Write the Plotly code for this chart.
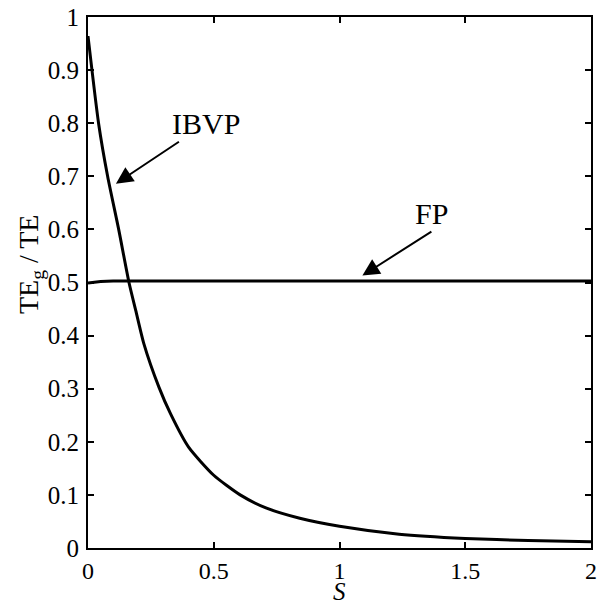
import plotly.graph_objects as go

# IBVP curve
s_ibvp = [0, 0.042, 0.078, 0.122, 0.163, 0.19, 0.222, 0.282, 0.328, 0.40,
          0.50, 0.605, 0.71, 0.842, 1.0, 1.237, 1.5, 1.75, 2.0]
te_ibvp = [0.964, 0.80, 0.70, 0.60, 0.50, 0.447, 0.385, 0.303, 0.253, 0.19,
           0.137, 0.10, 0.075, 0.056, 0.041, 0.026, 0.018, 0.014, 0.012]

# FP curve
s_fp = [0, 0.05, 0.1, 0.5, 1.0, 1.5, 2.0]
te_fp = [0.499, 0.502, 0.503, 0.503, 0.503, 0.503, 0.503]

x_ticks = [0, 0.5, 1, 1.5, 2]
y_ticks = [0, 0.1, 0.2, 0.3, 0.4, 0.5, 0.6, 0.7, 0.8, 0.9, 1]

font_family = "Liberation Serif"
tick_size = 25
label_size = 30

fig = go.Figure()
fig.add_trace(go.Scatter(x=s_ibvp, y=te_ibvp, mode="lines",
                         line=dict(color="black", width=3, shape="spline", smoothing=0.6),
                         showlegend=False))
fig.add_trace(go.Scatter(x=s_fp, y=te_fp, mode="lines",
                         line=dict(color="black", width=3), showlegend=False))

axis_common = dict(showline=True, linecolor="black", linewidth=2, mirror="ticks",
                   ticks="inside", ticklen=6, tickwidth=1.5, tickcolor="black",
                   showgrid=False, zeroline=False, automargin=False)

fig.update_xaxes(range=[0, 2], tickvals=x_ticks,
                 tickfont=dict(family=font_family, size=24, color="black"), **axis_common)
fig.update_yaxes(range=[0, 1], tickvals=y_ticks, ticklabelstandoff=2,
                 tickfont=dict(family=font_family, size=tick_size, color="black"), **axis_common)

# axis titles
fig.add_annotation(x=0.5, y=-0.081, xref="paper", yref="paper", text="<i>S</i>",
                   showarrow=False, yanchor="middle",
                   font=dict(family=font_family, size=25, color="black"))
fig.add_annotation(x=-0.113, y=0.535, xref="paper", yref="paper", text="TE<sub>g</sub> / TE",
                   showarrow=False, textangle=-90, xanchor="center", yanchor="middle",
                   font=dict(family=font_family, size=28, color="black"))

arrow_style = dict(showarrow=True, arrowhead=2, arrowsize=1.7, arrowwidth=2,
                   arrowcolor="black", font=dict(family=font_family, size=label_size, color="black"))

# IBVP: label centred on the arrow line
fig.add_annotation(x=0.111, y=0.686, ax=90, ay=-60, text="IBVP", **arrow_style)
# FP: label sits just above the arrow tail
fig.add_annotation(x=1.091, y=0.513, ax=69, ay=-44, text="FP",
                   xanchor="center", yanchor="bottom", **arrow_style)

fig.update_layout(width=598, height=607, margin=dict(l=88, r=7, t=17, b=59),
                  plot_bgcolor="white", paper_bgcolor="white")

fig.write_html("out.html")
